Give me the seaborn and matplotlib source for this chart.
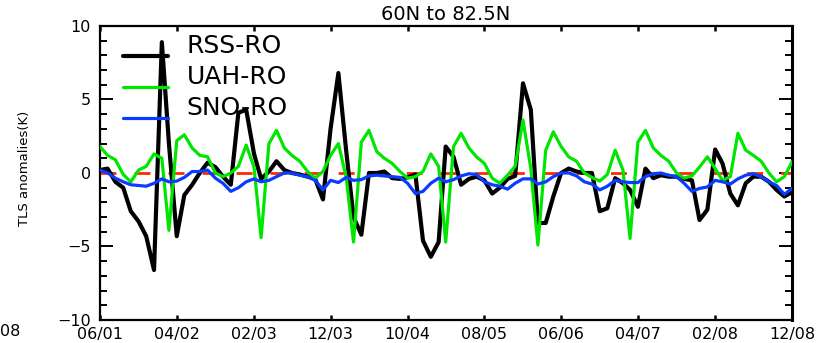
import numpy as np
import pandas as pd
import matplotlib
matplotlib.use("Agg")
import matplotlib.pyplot as plt
import matplotlib.dates as mdates
from matplotlib.ticker import MultipleLocator
from matplotlib.legend_handler import HandlerLine2D
import seaborn as sns

sns.set_theme(style="ticks")
plt.rcParams["font.family"] = ["DejaVu Sans"]
plt.rcParams["lines.scale_dashes"] = False
plt.rcParams["text.color"] = "black"
plt.rcParams["xtick.color"] = "black"
plt.rcParams["ytick.color"] = "black"

# ==================================================
# DATOS (anomalias mensuales TLS, 06/2001 - 12/2008)
# ==================================================
START = "2001-06-01"
TITLE = "60N to 82.5N"
YLABEL = "TLS anomalies(K)"

rss_ro = [0.2, 0.3, -0.6, -1.0, -2.6, -3.3, -4.3, -6.6, 8.9, 2.0,
          -4.3, -1.5, -0.8, 0.0, 0.7, 0.4, -0.25, -0.8, 4.1, 4.3,
          1.3, -0.4, 0.1, 0.8, 0.2, 0.0, -0.1, -0.25, -0.4, -1.8,
          3.0, 6.8, 1.5, -3.0, -4.2, 0.0, 0.0, 0.1, -0.35, -0.4,
          -0.3, -0.1, -4.6, -5.7, -4.7, 1.8, 1.1, -0.8, -0.4, -0.25,
          -0.5, -1.4, -1.0, -0.4, -0.2, 6.1, 4.3, -3.4, -3.4, -1.6,
          0.0, 0.3, 0.1, 0.0, 0.0, -2.6, -2.4, -0.35, -0.7, -1.15,
          -2.3, 0.3, -0.35, -0.15, -0.25, -0.25, -0.4, -0.5, -3.2, -2.5,
          1.6, 0.65, -1.4, -2.2, -0.7, -0.25, -0.25, -0.6, -1.15, -1.6,
          -1.3]

uah_ro = [1.8, 1.2, 0.9, -0.1, -0.6, 0.2, 0.45, 1.3, 1.0, -3.9,
          2.2, 2.6, 1.7, 1.2, 1.1, 0.0, -0.25, 0.0, 0.45, 1.9,
          0.4, -4.4, 2.0, 2.9, 1.7, 1.2, 0.8, 0.1, -0.35, 0.1,
          1.2, 2.0, -0.3, -4.7, 2.1, 2.9, 1.45, 1.0, 0.65, 0.1,
          -0.35, -0.25, 0.1, 1.3, 0.45, -4.7, 1.8, 2.7, 1.7, 1.1,
          0.65, -0.35, -0.7, -0.15, 0.45, 3.6, 0.3, -4.9, 1.55, 2.8,
          1.8, 1.1, 0.8, 0.0, -0.3, -0.55, -0.1, 1.55, 0.2, -4.45,
          2.1, 2.9, 1.7, 1.2, 0.8, 0.0, -0.35, -0.2, 0.4, 1.1,
          0.3, -0.5, -0.25, 2.7, 1.55, 1.2, 0.8, 0.0, -0.6, -0.25,
          0.75]

sno_ro = [0.2, 0.0, -0.35, -0.6, -0.8, -0.85, -0.9, -0.7, -0.4, -0.6,
          -0.55, -0.3, 0.1, 0.1, 0.2, -0.35, -0.7, -1.25, -1.0, -0.6,
          -0.4, -0.6, -0.5, -0.25, 0.0, 0.0, -0.15, -0.25, -0.5, -1.15,
          -0.5, -0.65, -0.3, -0.5, -0.45, -0.2, -0.15, -0.2, -0.25, -0.3,
          -0.7, -1.4, -1.25, -0.7, -0.35, -0.6, -0.45, -0.2, -0.05, -0.1,
          -0.6, -0.8, -0.9, -1.1, -0.7, -0.4, -0.4, -0.75, -0.6, -0.25,
          0.0, 0.0, -0.2, -0.6, -0.75, -1.15, -0.9, -0.5, -0.6, -0.65,
          -0.65, -0.25, -0.05, 0.0, -0.15, -0.25, -0.7, -1.25, -1.05, -0.95,
          -0.5, -0.6, -0.75, -0.4, -0.15, -0.05, -0.25, -0.6, -0.85, -1.45,
          -1.05]

SERIES = ["RSS-RO", "UAH-RO", "SNO-RO"]
COLORS = ["#000000", "#00e600", "#0a3cff"]
WIDTHS = [3.0, 2.3, 2.3]

months = pd.date_range(START, periods=len(rss_ro), freq="MS")
df = pd.DataFrame({"date": months, "RSS-RO": rss_ro, "UAH-RO": uah_ro, "SNO-RO": sno_ro})
long_df = df.melt(id_vars="date", var_name="product", value_name="anom")


# lineas de leyenda a la altura de la base del texto (estilo IDL)
class BaselineHandler(HandlerLine2D):
    def create_artists(self, legend, orig_handle, xdescent, ydescent,
                       width, height, fontsize, trans):
        return super().create_artists(legend, orig_handle, xdescent,
                                      ydescent + 0.9 * fontsize,
                                      width, height, fontsize, trans)


# ==================================================
# FIGURA
# ==================================================
fig = plt.figure(figsize=(8.29, 3.43), dpi=100)
ax = fig.add_axes([0.1206, 0.0671, 0.8347, 0.8571])

ax.axhline(0, color="#ff2a00", lw=2.0, dashes=(11.5, 13), zorder=2)
for name, color, lw in zip(SERIES, COLORS, WIDTHS):
    sns.lineplot(data=long_df[long_df["product"] == name], x="date", y="anom",
                 color=color, lw=lw, label=name, ax=ax, zorder=3)

ax.set_xlim(months[0], months[-1])
ax.set_ylim(-10, 10)
ax.set_xticks(pd.date_range(START, months[-1], freq="10MS"))
ax.xaxis.set_major_formatter(mdates.DateFormatter("%m/%y"))
ax.yaxis.set_major_locator(MultipleLocator(5))
ax.yaxis.set_minor_locator(MultipleLocator(1))

ax.tick_params(axis="both", which="both", direction="in", colors="black",
               top=True, right=True, labelsize=11.5)
ax.tick_params(axis="y", which="major", length=9.5, width=1.4, pad=6.5)
ax.tick_params(axis="y", which="minor", length=5, width=1.4)
ax.tick_params(axis="x", which="major", length=3.8, width=1.8, pad=5)
for side in ["left", "right", "top", "bottom"]:
    ax.spines[side].set_color("black")
    ax.spines[side].set_linewidth(1.6)
ax.spines["right"].set_linewidth(2.2)

ax.set_xlabel("")
ax.set_ylabel("")
ax.set_title(TITLE, fontsize=14, pad=4)
fig.text(0.029, 0.51, YLABEL, rotation=90, fontsize=9.5, ha="center", va="center")
fig.text(0.0, 0.012, "08", fontsize=11.5, ha="left", va="bottom")

leg = ax.legend(loc="upper left", bbox_to_anchor=(0.033, 0.972), frameon=False,
                fontsize=18, handlelength=1.8, handletextpad=0.75,
                labelspacing=0.28, borderaxespad=0, borderpad=0,
                handler_map={plt.Line2D: BaselineHandler()})
for txt in leg.get_texts():
    txt.set_color("black")

fig.savefig("out.png", dpi=100)
